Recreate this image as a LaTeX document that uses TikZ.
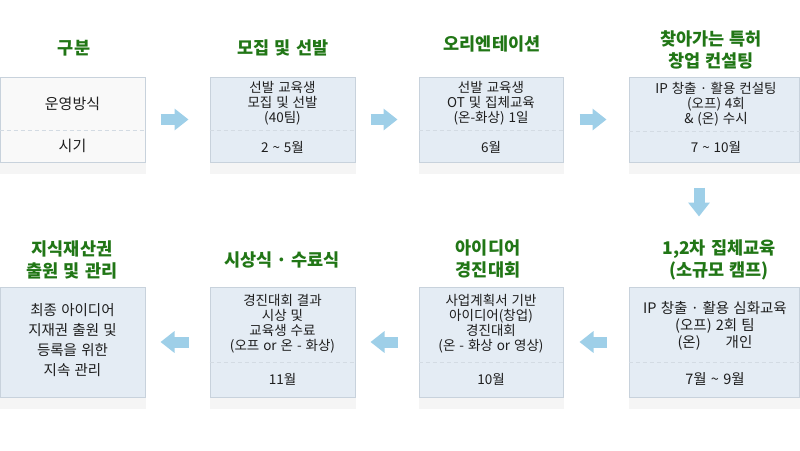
\documentclass[tikz,border=0pt]{standalone}
\usepackage{fontspec}
\setmainfont{Noto Sans CJK KR}[WordSpace=1.3]
\usetikzlibrary{arrows.meta}
\definecolor{titlegreen}{RGB}{33,118,22}
\definecolor{cellfill}{RGB}{228,236,244}
\definecolor{headfill}{RGB}{249,249,249}
\definecolor{cellline}{RGB}{200,210,220}
\definecolor{stripfill}{RGB}{245,245,245}
\definecolor{flowblue}{RGB}{158,207,232}
\definecolor{bodytext}{RGB}{30,30,30}
\newcommand{\mdot}{\makebox[0.45em]{·}}

\begin{document}
\begin{tikzpicture}[
                x=1pt, y=-1pt,
                cell/.style={rectangle,draw=cellline,fill=cellfill,line width=1pt,minimum width=145pt,minimum height=85pt,inner sep=0pt},
                tall/.style={minimum height=110pt},
                title/.style={align=center,text=titlegreen,font=\fontsize{17.5}{22}\selectfont\bfseries,inner sep=0pt},
                body/.style={align=center,text=bodytext,font=\fontsize{13.5}{15}\selectfont,inner sep=0pt},
                sep/.style={draw=cellline!80,line width=0.8pt,dash pattern=on 4pt off 3pt},
                flow/.style={draw=flowblue,line width=11pt,-{Triangle[length=14pt,width=21pt]}},
            ]
            \useasboundingbox (0,0) rectangle (800,450);

            % Define nodes
            \node[cell,fill=headfill] (S1) at (72.5,119.5) {};
            \node[cell] (S2) at (282.5,119.5) {};
            \node[cell,minimum width=144pt] (S3) at (491,119.5) {};
            \node[cell,minimum width=170pt] (S4) at (714,119.5) {};
            \node[cell,tall] (S5) at (72.5,342) {};
            \node[cell,tall] (S6) at (282.5,342) {};
            \node[cell,tall,minimum width=144pt] (S7) at (491,342) {};
            \node[cell,tall,minimum width=170pt] (S8) at (714,342) {};

            % Draw strips under the boxes
            \foreach \s in {S1,S2,S3,S4,S5,S6,S7,S8}
                \fill[stripfill] ([yshift=-0.5pt]\s.south west) rectangle ([yshift=-11pt]\s.south east);

            % Draw separators
            \draw[sep] (S1.west |- 0,130) -- (S1.east |- 0,130);
            \draw[sep] (S2.west |- 0,130) -- (S2.east |- 0,130);
            \draw[sep] (S3.west |- 0,130) -- (S3.east |- 0,130);
            \draw[sep] (S4.west |- 0,131) -- (S4.east |- 0,131);
            \draw[sep] (S6.west |- 0,362) -- (S6.east |- 0,362);
            \draw[sep] (S7.west |- 0,362) -- (S7.east |- 0,362);
            \draw[sep] (S8.west |- 0,362) -- (S8.east |- 0,362);

            % Draw titles
            \node[title] (H1) at (74,48) {구분};
            \node[title] (H2) at (283,48) {모집 및 선발};
            \node[title] (H3) at (492,44) {오리엔테이션};
            \node[title] (H4) at (711,50) {찾아가는 특허\\창업 컨설팅};
            \node[title] (H5) at (72,260) {지식재산권\\출원 및 관리};
            \node[title] (H6) at (282,260) {시상식 \mdot{} 수료식};
            \node[title] (H7) at (488,259) {아이디어\\경진대회};
            \node[title] (H8) at (719,260) {1,2차 집체교육\\(소규모 캠프)};

            % Draw box texts
            \node[body,font=\fontsize{15}{16}\selectfont] (T1) at (72.5,104) {운영방식};
            \node[body,font=\fontsize{15}{16}\selectfont] (D1) at (72.5,146) {시기};
            \node[body] (T2) at (282.5,103) {선발 교육생\\모집 및 선발\\(40팀)};
            \node[body] (D2) at (282.5,147) {2 \~{} 5월};
            \node[body] (T3) at (491,103) {선발 교육생\\OT 및 집체교육\\(온-화상) 1일};
            \node[body] (D3) at (491,147) {6월};
            \node[body] (T4) at (716,104) {IP 창출 \mdot{} 활용 컨설팅\\(오프) 4회\\\& (온) 수시};
            \node[body] (D4) at (716,147) {7 \~{} 10월};
            \node[body,font=\fontsize{14.5}{20}\selectfont] (T5) at (72.5,340) {최종 아이디어\\지재권 출원 및\\등록을 위한\\지속 관리};
            \node[body] (T6) at (282.5,324) {경진대회 결과\\시상 및\\교육생 수료\\(오프 or 온 - 화상)};
            \node[body] (D6) at (282.5,379) {11월};
            \node[body] (T7) at (491,324) {사업계획서 기반\\아이디어(창업)\\경진대회\\(온 - 화상 or 영상)};
            \node[body] (D7) at (491,379) {10월};
            \node[body,font=\fontsize{14.5}{17}\selectfont] (T8) at (715,326) {IP 창출 \mdot{} 활용 심화교육\\(오프) 2회 팀\\(온)\hspace{25pt}개인};
            \node[body,font=\fontsize{14.5}{17}\selectfont] (D8) at (715,379) {7월 \~{} 9월};

            % Draw connections
            \draw[flow] ([xshift=15pt]S1.east) -- ([xshift=-21pt]S2.west);
            \draw[flow] ([xshift=15pt]S2.east) -- ([xshift=-21pt]S3.west);
            \draw[flow] ([xshift=16pt]S3.east) -- ([xshift=-22pt]S4.west);
            \draw[flow] ([xshift=-15pt,yshift=-25pt]S4.south) -- ([xshift=-15pt,yshift=70pt]S8.north);
            \draw[flow] ([xshift=-22pt]S8.west) -- ([xshift=16pt]S7.east);
            \draw[flow] ([xshift=-21pt]S7.west) -- ([xshift=15pt]S6.east);
            \draw[flow] ([xshift=-21pt]S6.west) -- ([xshift=15pt]S5.east);

            \end{tikzpicture}
\end{document}
